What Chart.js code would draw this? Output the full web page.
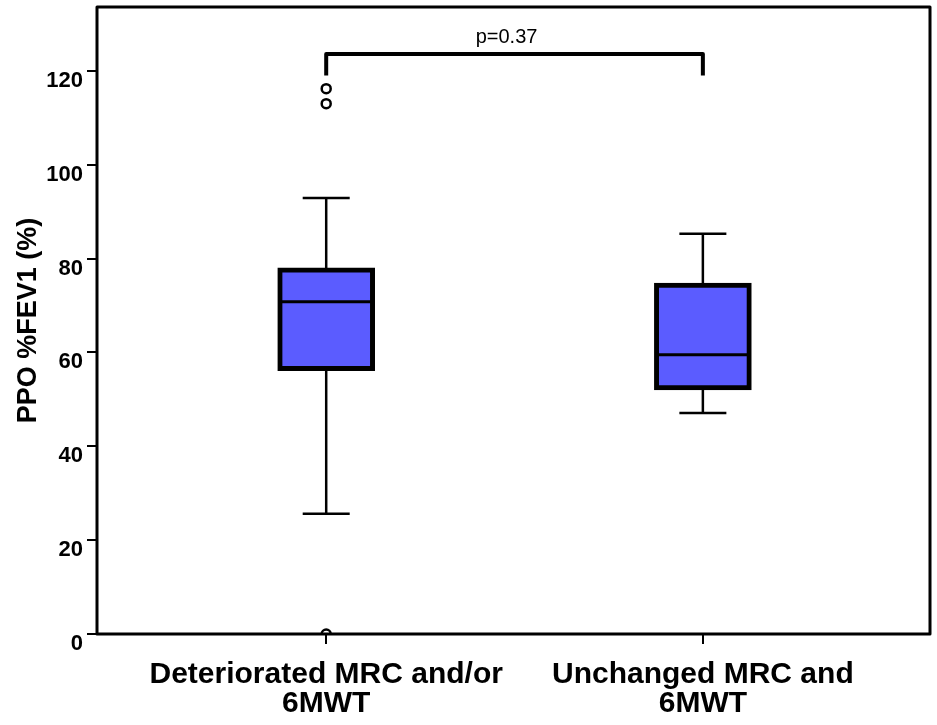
<!DOCTYPE html>
<html>
<head>
<meta charset="utf-8">
<script src="https://cdn.jsdelivr.net/npm/chart.js@4.4.0/dist/chart.umd.min.js"></script>
<style>
html, body { margin: 0; padding: 0; background: #fff; }
</style>
</head>
<body>
<canvas id="myChart" width="937" height="725"></canvas>
<script>
// groups and box statistics (PPO %FEV1, %)
const categories = [['Deteriorated MRC and/or', '6MWT'], ['Unchanged MRC and', '6MWT']];
const groupX = [1, 2];
const lowWhisker = [25.6, 47.1];
const q1 = [56.1, 52.0];
const median = [70.8, 59.5];
const q3 = [78.0, 74.8];
const highWhisker = [92.9, 85.3];
const outlierX = [1, 1, 1];
const outlierY = [116.2, 113.0, 0];
const yTicks = [0, 20, 40, 60, 80, 100, 120];
const bracketX = [1, 2];
const bracketY = [119, 123.6];
const pLabel = 'p=0.37';
const pLabelY = 127;

const FONT = '"Liberation Sans", Arial, sans-serif';

// whiskers, medians, significance bracket and frame
const boxExtras = {
	id: 'boxExtras',
	afterDatasetsDraw(chart) {
		const ctx = chart.ctx;
		const x = chart.scales.x;
		const y = chart.scales.y;
		ctx.save();
		ctx.strokeStyle = '#000';
		ctx.lineCap = 'butt';
		groupX.forEach((g, i) => {
			const px = x.getPixelForValue(g);
			const hi = y.getPixelForValue(highWhisker[i]);
			const lo = y.getPixelForValue(lowWhisker[i]);
			ctx.lineWidth = 2.5;
			ctx.beginPath();
			ctx.moveTo(px, y.getPixelForValue(q3[i]));
			ctx.lineTo(px, hi);
			ctx.moveTo(px, y.getPixelForValue(q1[i]));
			ctx.lineTo(px, lo);
			ctx.moveTo(px - 23.5, hi);
			ctx.lineTo(px + 23.5, hi);
			ctx.moveTo(px - 23.5, lo);
			ctx.lineTo(px + 23.5, lo);
			ctx.stroke();
			ctx.lineWidth = 3;
			ctx.beginPath();
			const m = y.getPixelForValue(median[i]);
			ctx.moveTo(px - 45, m);
			ctx.lineTo(px + 45, m);
			ctx.stroke();
		});

		// bracket
		const bx0 = x.getPixelForValue(bracketX[0]);
		const bx1 = x.getPixelForValue(bracketX[1]);
		ctx.lineWidth = 4;
		ctx.lineJoin = 'round';
		ctx.beginPath();
		ctx.moveTo(bx0, y.getPixelForValue(bracketY[0]));
		ctx.lineTo(bx0, y.getPixelForValue(bracketY[1]));
		ctx.lineTo(bx1, y.getPixelForValue(bracketY[1]));
		ctx.lineTo(bx1, y.getPixelForValue(bracketY[0]));
		ctx.stroke();

		ctx.fillStyle = '#000';
		ctx.font = '20px ' + FONT;
		ctx.textAlign = 'center';
		ctx.textBaseline = 'middle';
		ctx.fillText(pLabel, (bx0 + bx1) / 2 - 8, y.getPixelForValue(pLabelY));

		// frame
		const a = chart.chartArea;
		ctx.lineWidth = 3;
		ctx.strokeRect(a.left, a.top, a.right - a.left, a.bottom - a.top);
		ctx.restore();
	}
};

new Chart(document.getElementById('myChart'), {
	type: 'bar',
	data: {
		datasets: [{
			type: 'bar',
			data: groupX.map((g, i) => ({ x: g, y: [q1[i], q3[i]] })),
			backgroundColor: '#5b5cff',
			borderColor: '#000',
			borderWidth: 5,
			borderSkipped: false,
			barThickness: 97
		},
		{
			type: 'scatter',
			data: outlierX.map((g, i) => ({ x: g, y: outlierY[i] })),
			pointStyle: 'circle',
			pointRadius: 4.5,
			pointBorderWidth: 2.5,
			pointBackgroundColor: '#fff',
			pointBorderColor: '#000',
			clip: 0
		}]
	},
	options: {
		responsive: false,
		animation: false,
		layout: { padding: { top: 6, right: 1, left: 0, bottom: 0 } },
		plugins: {
			legend: { display: false },
			tooltip: { enabled: false }
		},
		scales: {
			x: {
				type: 'linear',
				offset: false,
				min: 0.3915,
				max: 2.603,
				afterBuildTicks: (scale) => { scale.ticks = groupX.map(v => ({ value: v })); },
				afterFit: (scale) => {
					scale.height = 91;
					scale.paddingLeft = 0;
					scale.paddingRight = 0;
				},
				border: { display: false },
				grid: { offset: false, drawOnChartArea: false, drawTicks: true, tickLength: 10, lineWidth: 2, color: '#000' },
				ticks: {
					autoSkip: false,
					maxRotation: 0,
					padding: 16,
					color: '#000',
					font: { family: FONT, size: 30, weight: 'bold', lineHeight: 0.97 },
					callback: (value) => categories[groupX.indexOf(value)]
				}
			},
			y: {
				min: 0,
				max: 133.6,
				afterBuildTicks: (scale) => { scale.ticks = yTicks.map(v => ({ value: v })); },
				afterFit: (scale) => {
					scale.width = 97;
					scale.paddingTop = 0;
					scale.paddingBottom = 0;
				},
				border: { display: false },
				grid: { drawOnChartArea: false, drawTicks: true, tickLength: 10, lineWidth: 2, color: '#000' },
				ticks: {
					padding: 4,
					labelOffset: 10,
					color: '#000',
					font: { family: FONT, size: 22, weight: 'bold' }
				},
				title: {
					display: true,
					text: 'PPO %FEV1 (%)',
					color: '#000',
					padding: { top: 12, bottom: 0 },
					font: { family: FONT, size: 27, weight: 'bold' }
				}
			}
		}
	},
	plugins: [boxExtras]
});
</script>
</body>
</html>
